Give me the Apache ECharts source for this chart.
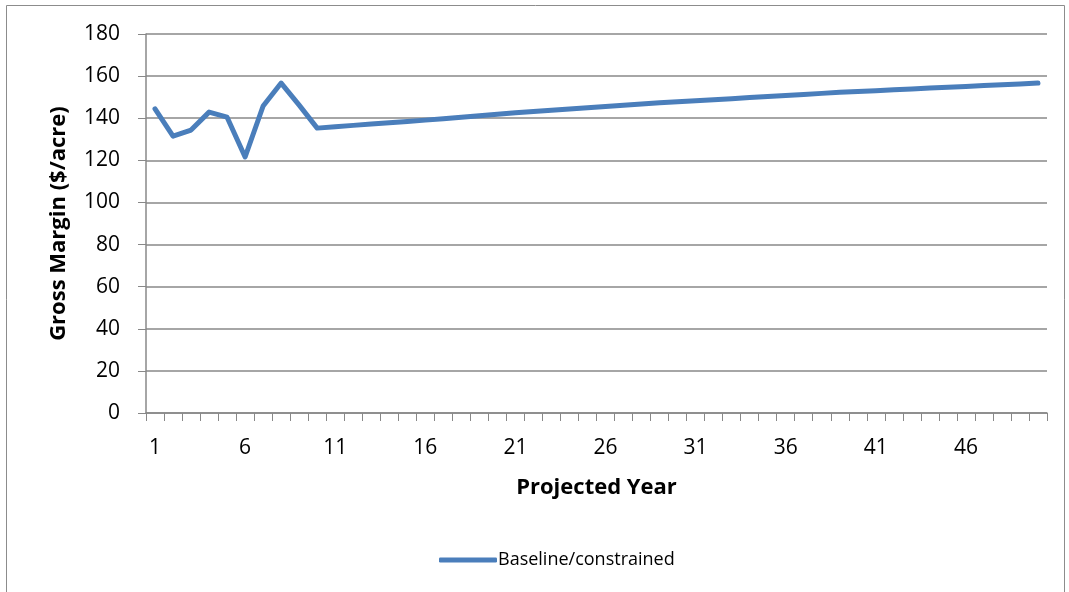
<!DOCTYPE html>
<html><head><meta charset="utf-8">
<script src="https://cdn.jsdelivr.net/npm/echarts@6/dist/echarts.min.js"></script>
<style>html,body{margin:0;padding:0;background:#fff}#c{width:1069px;height:592px}</style>
</head><body><div id="c"></div>
<script>
const years = Array.from({length:50},(_,i)=>String(i+1));
const grossMargin = [144.4,131.5,134.4,142.9,140.5,121.6,145.8,156.7,146.2,135.3,
136.0,136.6,137.2,137.8,138.4,139.1,139.8,140.5,141.2,141.9,
142.6,143.2,143.8,144.4,145.0,145.6,146.2,146.8,147.3,147.8,
148.3,148.8,149.3,149.8,150.3,150.8,151.3,151.8,152.3,152.7,
153.1,153.5,153.9,154.3,154.7,155.1,155.5,155.9,156.3,156.7];
const seriesName = 'Baseline/constrained';
const font = 'Open Sans';
const chart = echarts.init(document.getElementById('c'));
chart.setOption({
  animation:false,
  graphic:[{type:'rect',shape:{x:6.5,y:5.5,width:1058,height:620},style:{fill:'none',stroke:'#8c8c8c',lineWidth:1},silent:true}],
  grid:{left:146,right:22,top:34,bottom:179},
  legend:{top:546,left:434,itemWidth:58,itemHeight:5,icon:'roundRect',itemGap:0,
    textStyle:{fontFamily:font,fontSize:18,color:'#000',padding:[0,0,0,-4]},data:[seriesName]},
  xAxis:{type:'category',data:years,boundaryGap:true,
    name:'Projected Year',nameLocation:'middle',nameGap:64,
    nameTextStyle:{fontFamily:font,fontSize:22,fontWeight:'bold',color:'#000'},
    axisLine:{lineStyle:{color:'#888',width:1.5}},
    axisTick:{show:true,interval:0,length:8,lineStyle:{color:'#888'}},
    axisLabel:{interval:4,margin:25,fontFamily:font,fontSize:21,color:'#000'}},
  yAxis:{type:'value',min:0,max:180,interval:20,
    name:'Gross Margin ($/acre)',nameLocation:'middle',nameGap:76,
    nameTextStyle:{fontFamily:font,fontSize:22,fontWeight:'bold',color:'#000'},
    axisLine:{show:true,lineStyle:{color:'#888',width:1.5}},
    axisTick:{show:true,length:8,lineStyle:{color:'#888'}},
    axisLabel:{margin:26,fontFamily:font,fontSize:21,color:'#000'},
    splitLine:{lineStyle:{color:'#888',width:1.5}}},
  series:[{name:seriesName,type:'line',data:grossMargin,showSymbol:false,
    lineStyle:{color:'#4a7ebb',width:5,cap:'round',join:'round'},itemStyle:{color:'#4a7ebb'}}]
});
</script></body></html>
